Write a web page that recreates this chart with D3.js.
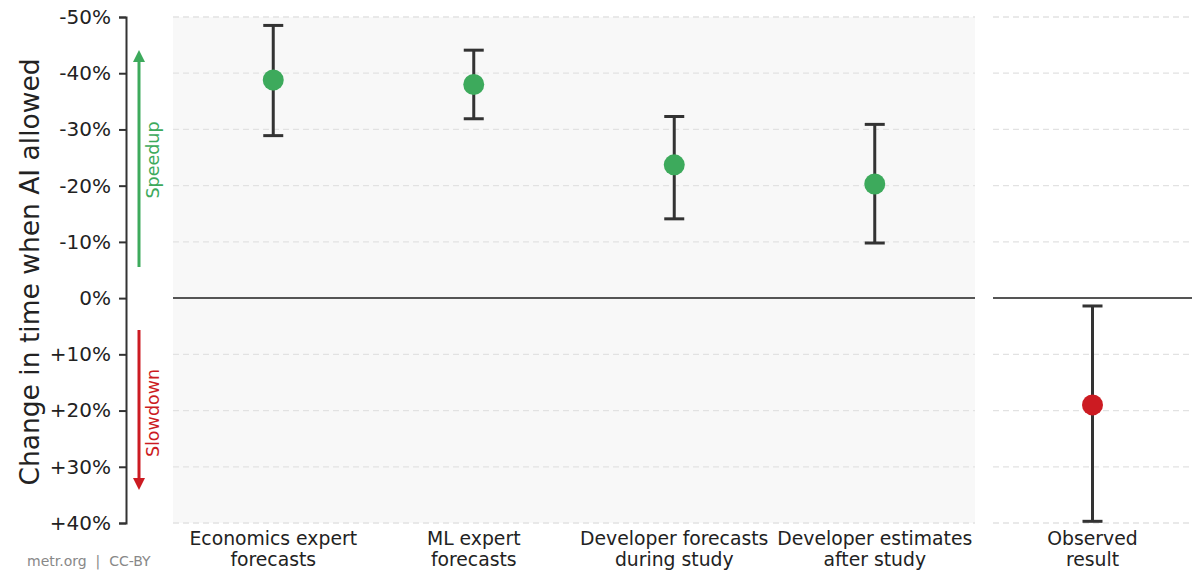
<!DOCTYPE html>
<html>
<head>
<meta charset="utf-8">
<script src="https://cdn.jsdelivr.net/npm/d3@7"></script>
<style>
  body { margin: 0; background: #fff; }
  text { font-family: "DejaVu Sans", sans-serif; }
</style>
</head>
<body>
<script>
// forecast categories (left panel) and observed (right panel)
const forecastLabels = [
  ["Economics expert", "forecasts"],
  ["ML expert", "forecasts"],
  ["Developer forecasts", "during study"],
  ["Developer estimates", "after study"]
];
const forecastMid = [-38.8, -38.0, -23.7, -20.3];
const forecastLow = [-48.5, -44.1, -32.3, -30.9];
const forecastHigh = [-28.9, -31.9, -14.1, -9.8];

const observedLabels = [["Observed", "result"]];
const observedMid = [19.0];
const observedLow = [1.4];
const observedHigh = [39.7];

const yTicks = [-50, -40, -30, -20, -10, 0, 10, 20, 30, 40];

const W = 1194, H = 570;
const svg = d3.select("body").append("svg")
  .attr("width", W).attr("height", H);

var y = d3.scaleLinear().domain([-50, 40]).range([17, 523]);
var xLeft = d3.scalePoint().domain(d3.range(forecastMid.length)).range([173, 975]).padding(0.5);
var xRight = d3.scalePoint().domain([0]).range([993, 1192]).padding(0.5);

// panel background (forecasts only)
svg.append("rect").attr("x", 173).attr("y", y(-50)).attr("width", 975 - 173)
  .attr("height", y(40) - y(-50)).attr("fill", "#f8f8f8");

// gridlines
function grid(x0, x1) {
  svg.append("g").selectAll("line").data(yTicks.filter(d => d !== 0)).join("line")
    .attr("x1", x0).attr("x2", x1)
    .attr("y1", d => y(d)).attr("y2", d => y(d))
    .attr("stroke", "#e2e2e2").attr("stroke-width", 1.3)
    .attr("stroke-dasharray", "6,4");
  svg.append("line").attr("x1", x0).attr("x2", x1)
    .attr("y1", y(0)).attr("y2", y(0))
    .attr("stroke", "#555").attr("stroke-width", 2);
}
grid(173, 975);
grid(993, 1192);

// y axis
var yAxis = svg.append("g")
  .attr("transform", "translate(126,0)")
  .call(d3.axisLeft(y).tickValues(yTicks).tickSize(7).tickPadding(8)
    .tickFormat(d => (d > 0 ? "+" : "") + d + "%"));
yAxis.select(".domain").attr("stroke", "#333").attr("stroke-width", 2);
yAxis.selectAll(".tick line").attr("stroke", "#333").attr("stroke-width", 2);
yAxis.selectAll(".tick text").attr("font-size", 20).attr("fill", "#222")
  .attr("font-family", "DejaVu Sans");

// y label
svg.append("text")
  .attr("transform", "translate(39," + 272 + ") rotate(-90)")
  .attr("text-anchor", "middle")
  .attr("font-size", 26.5).attr("fill", "#222")
  .text("Change in time when AI allowed");

// speedup / slowdown arrows
const defs = svg.append("defs");
[["up", "#3daa5c"], ["down", "#cc1b22"]].forEach(([id, c]) => {
  defs.append("marker").attr("id", "arr-" + id)
    .attr("viewBox", "0 0 10 10").attr("refX", 5).attr("refY", 5)
    .attr("markerWidth", 4).attr("markerHeight", 4)
    .attr("orient", "auto-start-reverse")
    .append("path").attr("d", "M0,0 L10,5 L0,10 z").attr("fill", c);
});
svg.append("line").attr("x1", 139).attr("x2", 139).attr("y1", 267).attr("y2", 56)
  .attr("stroke", "#3daa5c").attr("stroke-width", 3).attr("marker-end", "url(#arr-up)");
svg.append("line").attr("x1", 139).attr("x2", 139).attr("y1", 330).attr("y2", 484)
  .attr("stroke", "#cc1b22").attr("stroke-width", 3).attr("marker-end", "url(#arr-down)");
svg.append("text").attr("transform", "translate(159,160) rotate(-90)")
  .attr("text-anchor", "middle").attr("font-size", 17.5).attr("fill", "#3daa5c").text("Speedup");
svg.append("text").attr("transform", "translate(159,413) rotate(-90)")
  .attr("text-anchor", "middle").attr("font-size", 17.5).attr("fill", "#cc1b22").text("Slowdown");

// error bars + points
function drawPoints(x, mid, low, high, labels, color) {
  const g = svg.append("g");
  const idx = d3.range(mid.length);
  g.selectAll(".stem").data(idx).join("line")
    .attr("x1", i => x(i)).attr("x2", i => x(i))
    .attr("y1", i => y(low[i])).attr("y2", i => y(high[i]))
    .attr("stroke", "#333").attr("stroke-width", 3);
  [low, high].forEach(arr => {
    g.selectAll(null).data(idx).join("line")
      .attr("x1", i => x(i) - 10).attr("x2", i => x(i) + 10)
      .attr("y1", i => y(arr[i])).attr("y2", i => y(arr[i]))
      .attr("stroke", "#333").attr("stroke-width", 3);
  });
  g.selectAll("circle").data(idx).join("circle")
    .attr("cx", i => x(i)).attr("cy", i => y(mid[i])).attr("r", 10.5)
    .attr("fill", color);
  const t = g.selectAll(".lab").data(idx).join("text")
    .attr("text-anchor", "middle").attr("font-size", 18.8).attr("fill", "#222");
  t.each(function(i) {
    const el = d3.select(this);
    labels[i].forEach((s, k) => {
      el.append("tspan").attr("x", x(i)).attr("y", 545 + k * 21).text(s);
    });
  });
}
drawPoints(xLeft, forecastMid, forecastLow, forecastHigh, forecastLabels, "#3daa5c");
drawPoints(xRight, observedMid, observedLow, observedHigh, observedLabels, "#cc1b22");

// credit
svg.append("text").attr("x", 27).attr("y", 566).attr("font-size", 14)
  .attr("fill", "#888").text("metr.org  |  CC-BY").style("white-space", "pre");
</script>
</body>
</html>
